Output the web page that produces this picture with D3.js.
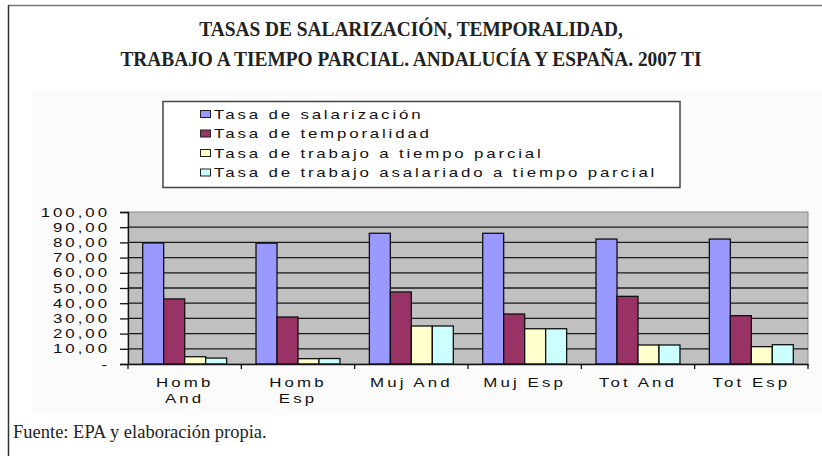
<!DOCTYPE html>
<html>
<head>
<meta charset="utf-8">
<script src="https://cdn.jsdelivr.net/npm/d3@7"></script>
<style>
  html, body { margin: 0; padding: 0; background: #fff; }
  svg { display: block; }
</style>
</head>
<body>
<svg id="chart" width="822" height="456"></svg>
<script>
// Categories (two-line labels split on "\n")
const categories = ["Homb\nAnd", "Homb\nEsp", "Muj And", "Muj Esp", "Tot And", "Tot Esp"];
const seriesNames = [
  "Tasa de salarización",
  "Tasa de temporalidad",
  "Tasa de trabajo a tiempo parcial",
  "Tasa de trabajo asalariado a tiempo parcial"
];
const salarizacion = [79.6, 79.5, 86.0, 86.0, 82.2, 82.2];
const temporalidad = [42.8, 30.9, 47.4, 32.9, 44.5, 31.8];
const tiempoParcial = [4.8, 3.5, 25.0, 23.2, 12.5, 11.4];
const asalariadoParcial = [3.9, 3.6, 25.0, 23.2, 12.5, 12.7];
const yTicks = [0, 10, 20, 30, 40, 50, 60, 70, 80, 90, 100];
const colors = ["#9999ff", "#993366", "#ffffcc", "#ccffff"];

const seriesValues = [salarizacion, temporalidad, tiempoParcial, asalariadoParcial];

const svg = d3.select("#chart");

// Page frame
svg.append("line").attr("x1", 8).attr("x2", 822).attr("y1", 5.5).attr("y2", 5.5)
  .attr("stroke", "#777").attr("stroke-width", 1.5);
svg.append("line").attr("x1", 8.5).attr("x2", 8.5).attr("y1", 5).attr("y2", 456)
  .attr("stroke", "#333").attr("stroke-width", 1.5);

// Title (slightly condensed serif)
const titleLines = ["TASAS DE SALARIZACIÓN, TEMPORALIDAD,",
                    "TRABAJO A TIEMPO PARCIAL. ANDALUCÍA Y ESPAÑA. 2007 TI"];
titleLines.forEach((line, i) => {
  svg.append("g").attr("transform", `translate(411,${36 + i * 30}) scale(0.88,1)`)
    .append("text")
    .attr("text-anchor", "middle")
    .attr("font-family", "'Liberation Serif', 'Times New Roman', serif")
    .attr("font-weight", "bold")
    .attr("font-size", 22)
    .attr("fill", "#222")
    .text(line);
});

// Chart object background
svg.append("rect").attr("x", 32).attr("y", 90).attr("width", 790).attr("height", 324)
  .attr("fill", "#fbfbfb");

// Stretched sans text helper
const SX = 1.35;
const sansFont = "'Liberation Sans', Arial, sans-serif";
function stretchedText(parent, x, y, str, anchor, spacing) {
  const g = parent.append("g").attr("transform", `translate(${x},${y}) scale(${SX},1)`);
  return g.append("text")
    .attr("text-anchor", anchor)
    .attr("font-family", sansFont)
    .attr("font-size", 12.5)
    .attr("letter-spacing", spacing)
    .attr("fill", "#111")
    .text(str);
}

// Legend
const legend = svg.append("g");
legend.append("rect").attr("x", 163).attr("y", 101.5).attr("width", 517).attr("height", 86)
  .attr("fill", "#fff").attr("stroke", "#444").attr("stroke-width", 1.5);
seriesNames.forEach((name, i) => {
  const cy = 114 + i * 19.5;
  legend.append("rect").attr("x", 200.5).attr("y", cy - 3.5).attr("width", 10).attr("height", 7)
    .attr("fill", colors[i]).attr("stroke", "#222").attr("stroke-width", 1);
  stretchedText(legend, 214, cy + 4.5, name, "start", 2.1);
});

// Plot area
const plot = { left: 128, right: 808, top: 212, bottom: 364 };
const x0 = d3.scaleBand().domain(categories).range([plot.left, plot.right]);
const x1 = d3.scaleBand().domain(d3.range(seriesNames.length))
  .range([0, x0.bandwidth()]).paddingInner(0).paddingOuter(0.7);
const y = d3.scaleLinear().domain([0, 100]).range([plot.bottom, plot.top]);

svg.append("rect").attr("x", plot.left).attr("y", plot.top)
  .attr("width", plot.right - plot.left).attr("height", plot.bottom - plot.top)
  .attr("fill", "#c0c0c0").attr("stroke", "#8a8a8a").attr("stroke-width", 1);

// Gridlines
svg.append("g").selectAll("line")
  .data(yTicks.filter(t => t > 0 && t < 100))
  .join("line")
  .attr("x1", plot.left).attr("x2", plot.right)
  .attr("y1", d => y(d)).attr("y2", d => y(d))
  .attr("stroke", "#1a1a1a").attr("stroke-width", 1.3);

// Bars
const groups = svg.append("g").selectAll("g")
  .data(categories)
  .join("g")
  .attr("transform", d => `translate(${x0(d)},0)`);
groups.selectAll("rect")
  .data((d, ci) => seriesValues.map((vals, si) => ({ si, v: vals[ci] })))
  .join("rect")
  .attr("x", d => x1(d.si))
  .attr("width", x1.bandwidth())
  .attr("y", d => y(d.v))
  .attr("height", d => y(0) - y(d.v))
  .attr("fill", d => colors[d.si])
  .attr("stroke", "#111")
  .attr("stroke-width", 1.3);

// Y axis
const yAxis = svg.append("g").attr("transform", `translate(${plot.left},0)`)
  .call(d3.axisLeft(y).tickValues(yTicks).tickSize(8).tickFormat(""));
yAxis.selectAll("path, line").attr("stroke", "#111").attr("stroke-width", 1.3);
yTicks.forEach(t => {
  const label = t === 0 ? "-" : d3.format(".2f")(t).replace(".", ",");
  stretchedText(svg, 110, y(t) + 4.5, label, "end", 2.2);
});

// X axis
const xAxis = svg.append("g").attr("transform", `translate(0,${plot.bottom})`)
  .call(d3.axisBottom(x0).tickSize(0).tickFormat(""));
xAxis.selectAll("path").attr("stroke", "#111").attr("stroke-width", 1.3);
svg.append("g").selectAll("line")
  .data(d3.range(categories.length + 1))
  .join("line")
  .attr("x1", i => plot.left + i * x0.step()).attr("x2", i => plot.left + i * x0.step())
  .attr("y1", plot.bottom).attr("y2", plot.bottom + 5)
  .attr("stroke", "#111").attr("stroke-width", 1.3);
categories.forEach(c => {
  const cx = x0(c) + x0.bandwidth() / 2;
  c.split("\n").forEach((line, li) => {
    stretchedText(svg, cx, 387 + li * 16, line, "middle", 2.3);
  });
});

// Source note
svg.append("text")
  .attr("x", 13).attr("y", 438)
  .attr("font-family", "'Liberation Serif', 'Times New Roman', serif")
  .attr("font-size", 18.5)
  .attr("fill", "#222")
  .text("Fuente: EPA y elaboración propia.");
</script>
</body>
</html>
